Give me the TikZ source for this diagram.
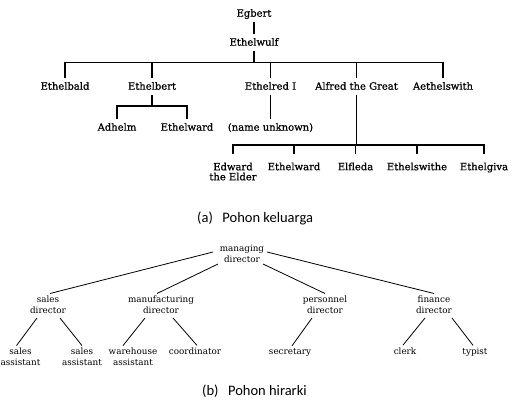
\documentclass[tikz,border=0pt]{standalone}
\usepackage{fontspec}
\setmainfont{DejaVu Serif}
\newfontfamily\treefont[FakeBold=0.8]{DejaVu Serif}
\newfontfamily\capfont{Carlito}
\begin{document}
\begin{tikzpicture}[x=1pt,y=-1pt,
  tn/.style={font=\treefont\fontsize{10}{10}\selectfont, inner sep=3.5pt, text height=7.5pt, text depth=2pt},
  tnm/.style={font=\treefont\fontsize{10}{10}\selectfont, inner sep=3.5pt, align=center},
  tl/.style={line width=1.4pt},
  bn/.style={font=\fontsize{8.8}{11}\selectfont, inner sep=2pt, align=center},
  bl/.style={line width=0.8pt},
  captxt/.style={font=\capfont\fontsize{14.5}{16}\selectfont, inner sep=0pt, anchor=base west}]
\useasboundingbox (0,0) rectangle (515,402);
\fill[white] (0,0) rectangle (515,402);

% ---------- family tree ----------
\node[tn] (egbert) at (254,13.9) {Egbert};
\node[tn] (wulf) at (254,42.9) {Ethelwulf};
\node[tn] (bald) at (65,86.9) {Ethelbald};
\node[tn] (bert) at (152,86.9) {Ethelbert};
\node[tn] (red) at (270.5,86.9) {Ethelred I};
\node[tn] (alfred) at (356.5,86.9) {Alfred the Great};
\node[tn] (aeth) at (443,86.9) {Aethelswith};
\node[tn] (adhelm) at (117,127.9) {Adhelm};
\node[tn] (wardA) at (187,127.9) {Ethelward};
\node[tn] (unk) at (270.5,127.9) {(name unknown)};
\node[tnm,anchor=north] (edward) at (233,159) {Edward\\the Elder};
\node[tn,anchor=north] (wardB) at (294,159) {Ethelward};
\node[tn,anchor=north] (elf) at (355.5,159) {Elfleda};
\node[tn,anchor=north] (swithe) at (417,159) {Ethelswithe};
\node[tn,anchor=north] (giva) at (484,159) {Ethelgiva};

\coordinate (bar1) at (254,62.7);
\coordinate (bar2) at (152,106);
\coordinate (bar3) at (356.5,145);

\draw[tl] (egbert) -- (wulf);
\draw[tl] (wulf.south) -- (bar1);
\foreach \c in {bald,bert,red,alfred,aeth} \draw[tl] (\c.north) |- (bar1);
\draw[tl] (bert.south) -- (bar2);
\foreach \c in {adhelm,wardA} \draw[tl] (\c.north) |- (bar2);
\draw[tl] (red.south) -- (unk.north);
\draw[tl] (alfred.south) -- (bar3);
\foreach \c in {edward,wardB,elf,swithe,giva} \draw[tl,shorten <=5pt] (\c.north) |- (bar3);

\node[captxt] (capa) at (197,222) {(a)\hspace{9.5pt}Pohon keluarga};

% ---------- hierarchy tree ----------
\node[bn,anchor=north] (md) at (242,242.6) {managing\\director};
\node[bn,anchor=north] (sd) at (48,293.5) {sales\\director};
\node[bn,anchor=north] (mfd) at (161,293.5) {manufacturing\\director};
\node[bn,anchor=north] (pd) at (325,293.5) {personnel\\director};
\node[bn,anchor=north] (fd) at (434,293.5) {finance\\director};
\node[bn,anchor=north] (sa1) at (20.5,345.6) {sales\\assistant};
\node[bn,anchor=north] (sa2) at (82,345.6) {sales\\assistant};
\node[bn,anchor=north] (wa) at (133,345.6) {warehouse\\assistant};
\node[bn,anchor=base] (co) at (195,354.3) {coordinator};
\node[bn,anchor=base] (se) at (290,354) {secretary};
\node[bn,anchor=base] (cl) at (405,354) {clerk};
\node[bn,anchor=base] (ty) at (475,354) {typist};

\draw[bl] ([xshift=-29pt,yshift=-9.4pt]md.north) -- ([xshift=2pt]sd.north);
\draw[bl] ([xshift=-24pt,yshift=-21.4pt]md.north) -- ([xshift=-4pt]mfd.north);
\draw[bl] ([xshift=21pt,yshift=-21.4pt]md.north) -- (pd.north);
\draw[bl] ([xshift=25pt,yshift=-9.4pt]md.north) -- (fd.north);

\draw[bl] ([xshift=-11pt,yshift=-24.5pt]sd.north) -- ([xshift=-4pt]sa1.north);
\draw[bl] ([xshift=12pt,yshift=-24.5pt]sd.north) -- (sa2.north);
\draw[bl] ([xshift=-16pt,yshift=-24.5pt]mfd.north) -- ([xshift=-10pt]wa.north);
\draw[bl] ([xshift=12pt,yshift=-24.5pt]mfd.north) -- ([xshift=2pt]co.north);
\draw[bl] ([xshift=-13pt,yshift=-24.5pt]pd.north) -- ([xshift=2pt]se.north);
\draw[bl] ([xshift=-9pt,yshift=-24.5pt]fd.north) -- ([xshift=-2pt]cl.north);
\draw[bl] ([xshift=18pt,yshift=-24.5pt]fd.north) -- ([xshift=-2pt]ty.north);

\node[captxt] (capb) at (202,395) {(b)\hspace{9.5pt}Pohon hirarki};
\end{tikzpicture}
\end{document}
